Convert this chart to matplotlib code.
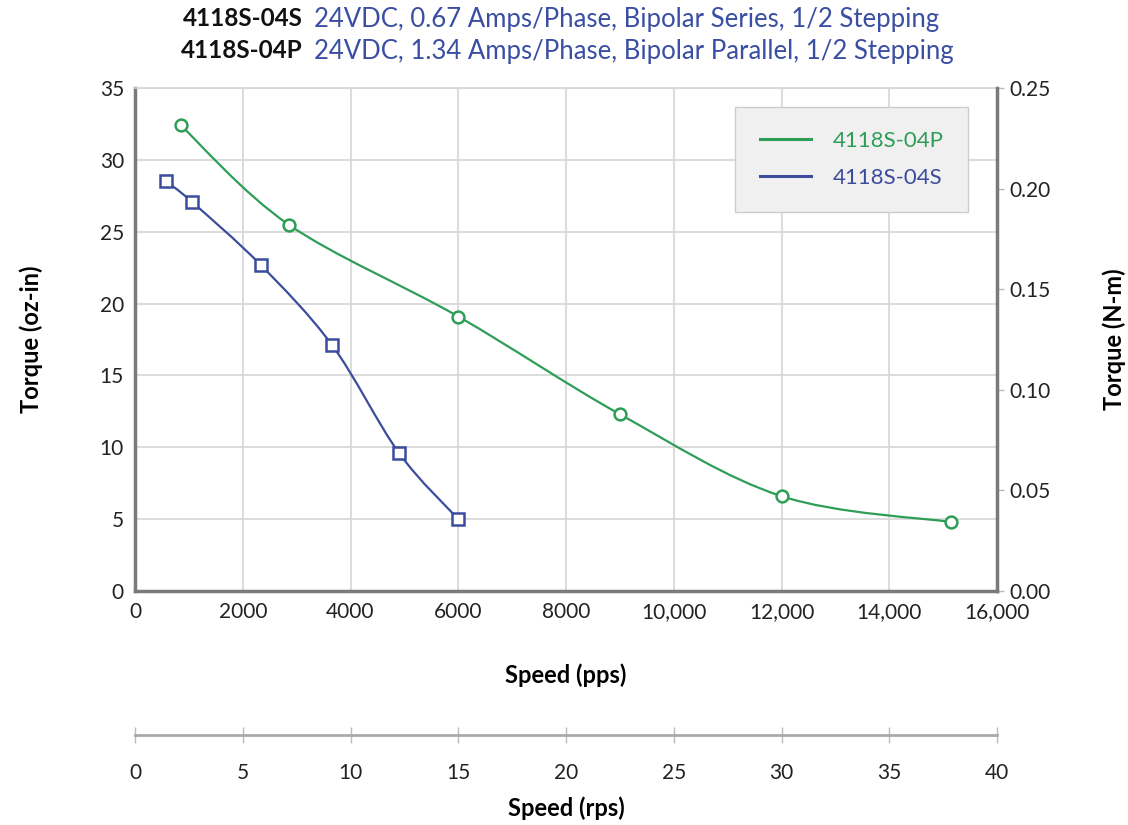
import matplotlib
matplotlib.use("Agg")
import numpy as np
import matplotlib.pyplot as plt
from matplotlib.path import Path
from matplotlib.patches import PathPatch
from matplotlib.lines import Line2D

plt.rcParams['font.family'] = ['Lato', 'DejaVu Sans']

# ------------------------------
# Data
# ------------------------------
speed_p = [850, 2850, 6000, 9000, 12000, 15150]
torque_p = [32.4, 25.5, 19.1, 12.3, 6.6, 4.8]

speed_s = [580, 1050, 2330, 3660, 4900, 6000]
torque_s = [28.5, 27.1, 22.7, 17.1, 9.6, 5.0]

label_p = "4118S-04P"
label_s = "4118S-04S"

x_ticks = [0, 2000, 4000, 6000, 8000, 10000, 12000, 14000, 16000]
x_ticklabels = ["0", "2000", "4000", "6000", "8000", "10,000", "12,000", "14,000", "16,000"]
y_ticks = [0, 5, 10, 15, 20, 25, 30, 35]
nm_ticks = [0.00, 0.05, 0.10, 0.15, 0.20, 0.25]
rps_ticks = [0, 5, 10, 15, 20, 25, 30, 35, 40]

GREEN = "#2e9e57"
BLUE = "#3b4c9e"
TITLE_BLUE = "#3a4ea3"
GRID = "#d6d6d6"
SPINE = "#7a7a7a"


def smooth_path(xs, ys):
    # Catmull-Rom style bezier path through the data points
    xs = np.asarray(xs, float)
    ys = np.asarray(ys, float)
    verts = [(xs[0], ys[0])]
    codes = [Path.MOVETO]
    n = len(xs)
    for i in range(n - 1):
        x0, y0 = (xs[i - 1], ys[i - 1]) if i > 0 else (xs[i], ys[i])
        x3, y3 = (xs[i + 2], ys[i + 2]) if i + 2 < n else (xs[i + 1], ys[i + 1])
        c1 = (xs[i] + (xs[i + 1] - x0) / 6, ys[i] + (ys[i + 1] - y0) / 6)
        c2 = (xs[i + 1] - (x3 - xs[i]) / 6, ys[i + 1] - (y3 - ys[i]) / 6)
        verts += [c1, c2, (xs[i + 1], ys[i + 1])]
        codes += [Path.CURVE4] * 3
    return Path(verts, codes)


fig = plt.figure(figsize=(11.28, 8.25), dpi=100)
ax = fig.add_axes([0.1197, 0.2836, 0.7642, 0.6097])

ax.set_xlim(0, 16000)
ax.set_ylim(0, 35)
ax.set_xticks(x_ticks)
ax.set_xticklabels(x_ticklabels)
ax.set_yticks(y_ticks)
ax.grid(True, color=GRID, linewidth=1.2)
ax.set_axisbelow(True)
ax.tick_params(axis='both', labelsize=15, length=0, pad=8, labelcolor="#222222")

for side in ['left', 'bottom']:
    ax.spines[side].set_color(SPINE)
    ax.spines[side].set_linewidth(2.5)
ax.spines['top'].set_color(GRID)
ax.spines['top'].set_linewidth(1.2)
ax.spines['right'].set_visible(False)

# curves
ax.add_patch(PathPatch(smooth_path(speed_p, torque_p), fill=False, edgecolor=GREEN, linewidth=1.6))
ax.add_patch(PathPatch(smooth_path(speed_s, torque_s), fill=False, edgecolor=BLUE, linewidth=1.6))
ax.plot(speed_p, torque_p, linestyle='none', marker='o', markersize=8.5, markerfacecolor='white',
        markeredgecolor=GREEN, markeredgewidth=1.8, zorder=5)
ax.plot(speed_s, torque_s, linestyle='none', marker='s', markersize=8.5, markerfacecolor='white',
        markeredgecolor=BLUE, markeredgewidth=1.8, zorder=5)

ax.set_xlabel("Speed (pps)", fontsize=17, fontweight='bold', labelpad=30)
ax.set_ylabel("Torque (oz-in)", fontsize=17, fontweight='bold', labelpad=41)

# right axis in N-m
ax_r = ax.twinx()
ax_r.set_ylim(0, 0.25)
ax_r.set_yticks(nm_ticks)
ax_r.set_yticklabels([f"{v:.2f}" for v in nm_ticks])
ax_r.tick_params(axis='y', labelsize=15, length=5, width=1, color="#bbbbbb", pad=4, labelcolor="#222222")
for side in ['left', 'bottom', 'top']:
    ax_r.spines[side].set_visible(False)
ax_r.spines['right'].set_color(SPINE)
ax_r.spines['right'].set_linewidth(2.5)
ax_r.set_ylabel("Torque (N-m)", fontsize=17, fontweight='bold', labelpad=37)

# speed in rps below the chart
sec = ax.secondary_xaxis(-0.286, functions=(lambda x: x / 400.0, lambda x: x * 400.0))
sec.set_xticks(rps_ticks)
sec.tick_params(axis='x', direction='inout', length=12, width=1, color="#bbbbbb",
                labelsize=15, pad=14, labelcolor="#222222")
sec.spines['bottom'].set_color("#aaaaaa")
sec.spines['bottom'].set_linewidth(2)
sec.set_xlabel("Speed (rps)", fontsize=17, fontweight='bold', labelpad=10)

# legend
handles = [Line2D([], [], color=GREEN, linewidth=2.2), Line2D([], [], color=BLUE, linewidth=2.2)]
leg = ax.legend(handles, [label_p, label_s], loc='upper right', bbox_to_anchor=(0.9665, 0.963),
                fontsize=16, frameon=True, fancybox=False, borderpad=1.1, handlelength=2.3,
                handletextpad=1.0, labelspacing=0.75, borderaxespad=0)
leg.get_frame().set_facecolor("#f0f0f0")
leg.get_frame().set_edgecolor("#cccccc")
leg.get_frame().set_alpha(1)
for txt, c in zip(leg.get_texts(), [GREEN, BLUE]):
    txt.set_color(c)

# title lines
fig.text(303 / 1128, 1 - 19 / 825, "4118S-04S", ha='right', va='center', fontsize=17.5, fontweight='bold', color="#111111")
fig.text(314 / 1128, 1 - 19 / 825, "24VDC, 0.67 Amps/Phase, Bipolar Series, 1/2 Stepping",
         ha='left', va='center', fontsize=18.5, color=TITLE_BLUE)
fig.text(303 / 1128, 1 - 51 / 825, "4118S-04P", ha='right', va='center', fontsize=17.5, fontweight='bold', color="#111111")
fig.text(314 / 1128, 1 - 51 / 825, "24VDC, 1.34 Amps/Phase, Bipolar Parallel, 1/2 Stepping",
         ha='left', va='center', fontsize=18.5, color=TITLE_BLUE)

fig.savefig("out.png", dpi=100, facecolor='white')
